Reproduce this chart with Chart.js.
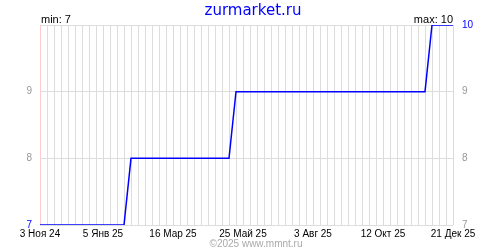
<!DOCTYPE html>
<html><head><meta charset="utf-8">
<script src="https://cdn.jsdelivr.net/npm/chart.js@4/dist/chart.umd.min.js"></script>
<style>html,body{margin:0;padding:0;background:#fff}#w{width:500px;height:250px}</style>
</head><body><div id="w"><canvas id="c" width="500" height="250"></canvas></div>
<script>
const siteTitle = 'zurmarket.ru';
const copyright = '©2025 www.mmnt.ru';
const categories = ['3 Ноя 24','10 Ноя 24','17 Ноя 24','24 Ноя 24','1 Дек 24','8 Дек 24','15 Дек 24','22 Дек 24','29 Дек 24',
'5 Янв 25','12 Янв 25','19 Янв 25','26 Янв 25','2 Фев 25','9 Фев 25','16 Фев 25','23 Фев 25','2 Мар 25','9 Мар 25',
'16 Мар 25','23 Мар 25','30 Мар 25','6 Апр 25','13 Апр 25','20 Апр 25','27 Апр 25','4 Май 25','11 Май 25','18 Май 25',
'25 Май 25','1 Июн 25','8 Июн 25','15 Июн 25','22 Июн 25','29 Июн 25','6 Июл 25','13 Июл 25','20 Июл 25','27 Июл 25',
'3 Авг 25','10 Авг 25','17 Авг 25','24 Авг 25','31 Авг 25','7 Сен 25','14 Сен 25','21 Сен 25','28 Сен 25','5 Окт 25',
'12 Окт 25','19 Окт 25','26 Окт 25','2 Ноя 25','9 Ноя 25','16 Ноя 25','23 Ноя 25','30 Ноя 25','7 Дек 25','14 Дек 25','21 Дек 25'];
const values = [7,7,7,7,7,7,7,7,7,7,7,7,7,
8,8,8,8,8,8,8,8,8,8,8,8,8,8,8,
9,9,9,9,9,9,9,9,9,9,9,9,9,9,9,9,9,9,9,9,9,9,9,9,9,9,9,9,
10,10,10,10];
const tickLabels = ['3 Ноя 24','5 Янв 25','16 Мар 25','25 Май 25','3 Авг 25','12 Окт 25','21 Дек 25'];
const yTicks = [7,8,9,10];
const minValue = 7, maxValue = 10;

const FONT = 'Liberation Sans';
const textPlugin = {
  id: 'texts',
  afterDraw(chart) {
    const ctx = chart.ctx, a = chart.chartArea;
    ctx.save();
    ctx.fillStyle = '#0000ff';
    ctx.font = '15px "DejaVu Sans"';
    ctx.textAlign = 'center'; ctx.textBaseline = 'alphabetic';
    ctx.fillText(siteTitle, 253, 15);
    ctx.fillStyle = '#000';
    ctx.font = '11px ' + FONT;
    ctx.textAlign = 'left';
    ctx.fillText('min: ' + minValue, a.left + 1, 23);
    ctx.textAlign = 'right';
    ctx.fillText('max: ' + maxValue, a.right, 23);
    ctx.fillStyle = '#aaaaaa';
    ctx.textAlign = 'center';
    ctx.font = '10px ' + FONT;
    ctx.fillText(copyright, 256, 247);
    ctx.restore();
  }
};

new Chart(document.getElementById('c'), {
  type: 'line',
  data: { labels: categories, datasets: [{ data: values, borderColor: '#0000ff', borderWidth: 1.5, pointRadius: 0, tension: 0, fill: false }] },
  options: {
    responsive: false, animation: false,
    layout: { padding: { top: 25, left: 0, right: 0, bottom: 0 } },
    plugins: { legend: { display: false }, tooltip: { enabled: false } },
    scales: {
      x: {
        type: 'category', offset: false,
        border: { display: false },
        grid: { drawTicks: false, lineWidth: 1,
          color: c => tickLabels.includes(categories[c.index]) ? '#ffcccc' : '#dddddd' },
        ticks: { autoSkip: false, maxRotation: 0, padding: 3, color: '#000',
          font: { family: FONT, size: 10 },
          callback: function(v) { const l = this.getLabelForValue(v); return tickLabels.includes(l) ? l : ''; } },
        afterFit: s => { s.height = 25; }
      },
      y: {
        position: 'left', min: minValue, max: maxValue,
        border: { display: false },
        grid: { drawTicks: false, color: '#dddddd' },
        afterBuildTicks: s => { s.ticks = yTicks.map(v => ({ value: v })); },
        ticks: { padding: 8, font: { family: FONT, size: 10 },
          color: c => c.tick.value === minValue ? '#0000ff' : '#999999',
          callback: v => v === maxValue ? '' : String(v) },
        afterFit: s => { s.width = 40; }
      },
      y2: {
        position: 'right', min: minValue, max: maxValue,
        border: { display: false },
        grid: { display: false, drawTicks: false },
        afterBuildTicks: s => { s.ticks = yTicks.map(v => ({ value: v })); },
        ticks: { padding: 9, font: { family: FONT, size: 10 },
          color: c => c.tick.value === maxValue ? '#0000ff' : '#999999',
          callback: v => String(v) },
        afterFit: s => { s.width = 47; }
      }
    }
  },
  plugins: [textPlugin]
});
</script></body></html>
